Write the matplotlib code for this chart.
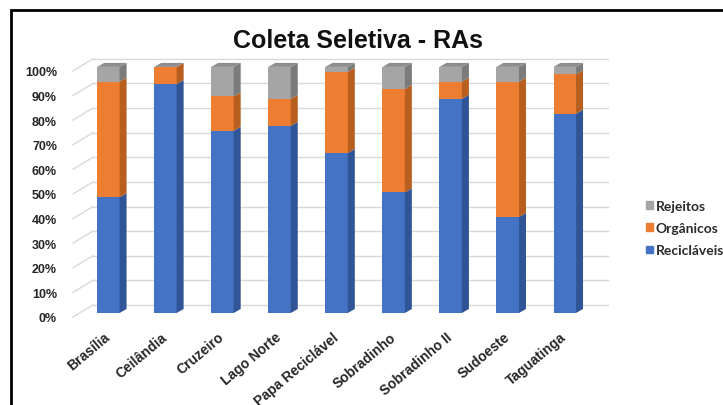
import matplotlib
matplotlib.use("Agg")
import matplotlib.pyplot as plt
from matplotlib.patches import Polygon, Rectangle

# Composição da coleta seletiva por região administrativa (%)
regioes = ["Brasília", "Ceilândia", "Cruzeiro", "Lago Norte", "Papa Reciclável",
           "Sobradinho", "Sobradinho II", "Sudoeste", "Taguatinga"]
reciclaveis = [47, 93, 74, 76, 65, 49, 87, 39, 81]
organicos = [47, 7, 14, 11, 33, 42, 7, 55, 16]
rejeitos = [6, 0, 12, 13, 2, 9, 6, 6, 3]

nomes = ["Recicláveis", "Orgânicos", "Rejeitos"]
cores_frente = ["#4472C4", "#ED7D31", "#A5A5A5"]
cores_lado = ["#2F5597", "#B85F1F", "#7B7B7B"]
cor_topo = "#8E8E8E"

# "profundidade" falsa das colunas (efeito 3D)
LARGURA = 0.394
DX_LADO, DY_LADO = 0.123, 1.63
BASE = 1.63
DX_PAREDE, DY_PAREDE = 0.35, 4.9

fig = plt.figure(figsize=(7.23, 4.06), dpi=100)
ax = fig.add_axes([73 / 723, 88 / 406, 515 / 723, 268 / 406])
xmin, xmax = -0.619, 8.407
ax.set_xlim(xmin, xmax)
ax.set_ylim(0, 108.9)

# grade na parede do fundo
for nivel in range(0, 101, 10):
    ax.plot([xmin, xmin + DX_PAREDE], [nivel, nivel + DY_PAREDE],
            color="#D9D9D9", lw=1, clip_on=False, zorder=1)
    ax.plot([xmin + DX_PAREDE, xmax + DX_PAREDE], [nivel + DY_PAREDE] * 2,
            color="#D9D9D9", lw=1, clip_on=False, zorder=1)

x = list(range(len(regioes)))
base = [BASE] * len(regioes)
for nome, valores, cf, cl in zip(nomes, [reciclaveis, organicos, rejeitos], cores_frente, cores_lado):
    ax.bar(x, valores, bottom=base, width=LARGURA, color=cf, linewidth=0, zorder=3)
    for i, v in enumerate(valores):
        xr = i + LARGURA / 2
        y0, y1 = base[i], base[i] + v
        ax.add_patch(Polygon([(xr, y0), (xr + DX_LADO, y0 + DY_LADO),
                              (xr + DX_LADO, y1 + DY_LADO), (xr, y1)],
                             closed=True, facecolor=cl, edgecolor="none", zorder=3))
    base = [b + v for b, v in zip(base, valores)]

# tampa superior de cada coluna
for i, topo in enumerate(base):
    xl = i - LARGURA / 2
    xr = i + LARGURA / 2
    ax.add_patch(Polygon([(xl, topo), (xr, topo), (xr + DX_LADO, topo + DY_LADO),
                          (xl + DX_LADO, topo + DY_LADO)],
                         closed=True, facecolor=cor_topo, edgecolor="none", zorder=4))

for s in ax.spines.values():
    s.set_visible(False)

ax.set_yticks(range(0, 101, 10))
ax.set_yticklabels([f"{v}%" for v in range(0, 101, 10)],
                   fontsize=9, fontweight="bold", family="Liberation Sans", color="#262626")
ax.tick_params(axis="y", length=0, pad=11.5)

ax.set_xticks(x)
ax.set_xticklabels(regioes, fontsize=10, fontweight="bold", family="Liberation Sans",
                   color="#262626", rotation=40, ha="right", va="center",
                   rotation_mode="anchor")
ax.tick_params(axis="x", length=0, pad=13)

fig.text(358 / 723, 1 - 41 / 406, "Coleta Seletiva - RAs", ha="center", va="center",
         fontsize=18, fontweight="bold", family="Liberation Sans", color="#111111")

handles = [Rectangle((0, 0), 1, 1, color=c) for c in reversed(cores_frente)]
fig.legend(handles, list(reversed(nomes)), loc="center left",
           bbox_to_anchor=(646 / 723, 1 - 229 / 406), frameon=False,
           handlelength=0.5, handleheight=0.5, handletextpad=0.2,
           labelspacing=0.75, borderpad=0, borderaxespad=0,
           prop=dict(family="Lato", weight="bold", size=10), labelcolor="#2b2b2b")

# moldura preta
fig.patches.append(Rectangle((11 / 723, -0.1), 1.2, 1.1 - 11 / 406, fill=False,
                             edgecolor="black", lw=2, transform=fig.transFigure))

fig.savefig("out.png", dpi=100)
